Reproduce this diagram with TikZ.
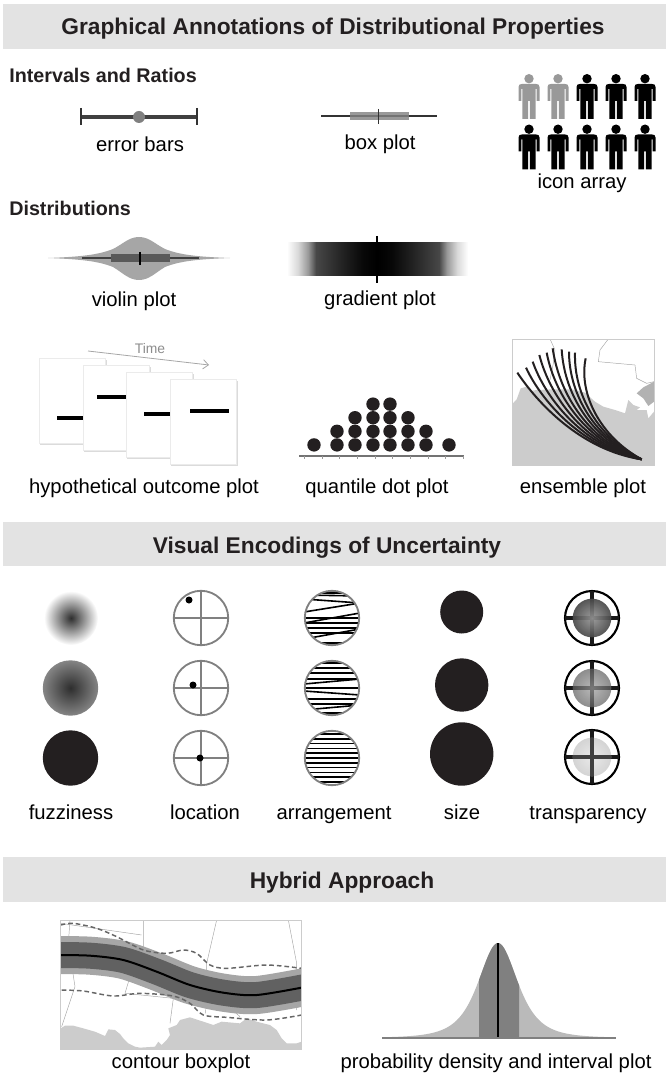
\documentclass[tikz,border=0pt]{standalone}
\usepackage{fontspec}
\setmainfont{Liberation Sans}
\usetikzlibrary{arrows.meta}

\definecolor{bandgray}{HTML}{E3E3E3}
\definecolor{inkdark}{HTML}{231F20}
\definecolor{landgray}{HTML}{CCCCCC}
\definecolor{midgray}{HTML}{808080}

\pgfdeclarehorizontalshading{gradstrip}{100bp}{
  color(0bp)=(white); color(25bp)=(white); color(28bp)=(black!15);
  color(30.8bp)=(black!40); color(33bp)=(black!72); color(40bp)=(black!86);
  color(46bp)=(black!97); color(50bp)=(black); color(54bp)=(black!97); color(60bp)=(black!86);
  color(67bp)=(black!72); color(69.2bp)=(black!40); color(72bp)=(black!15); color(75bp)=(white); color(100bp)=(white)}

\tikzset{
  band/.style={fill=bandgray, draw=none},
  heading/.style={font=\fontsize{17.05}{19}\selectfont\bfseries, text=inkdark, anchor=base},
  subheading/.style={font=\fontsize{14.8}{16}\selectfont\bfseries, text=inkdark, anchor=base west, inner sep=0pt},
  caption/.style={font=\fontsize{15.2}{17}\selectfont, text=black, anchor=base},
  card/.style={fill=white, draw=black!8, line width=0.5pt},
  cardshadow/.style={fill=black!14, draw=none},
  cardbar/.style={line width=2.3pt, black},
  ensemble/.style={line width=1.5pt, inkdark},
  stateline/.style={line width=0.35pt, black!35},
  dialring/.style={line width=1.4pt, midgray},
  hatch/.style={line width=1.2pt, black},
  dashedroute/.style={line width=1.1pt, black!60, dash pattern=on 3.5pt off 2.2pt}
}

\newcommand{\personicon}[3]{% x, top y, colour
  \fill[#3] (#1,#2+4.7) circle (4.7);
  \fill[#3] (#1-10.5,#2+27) -- (#1-10.5,#2+13) .. controls (#1-10.5,#2+10.5) and (#1-9,#2+10) .. (#1-7,#2+10)
    -- (#1+7,#2+10) .. controls (#1+9,#2+10) and (#1+10.5,#2+10.5) .. (#1+10.5,#2+13) -- (#1+10.5,#2+27)
    -- (#1+7.6,#2+27) -- (#1+7.6,#2+15) -- (#1+6.6,#2+15) -- (#1+6.6,#2+45) -- (#1+0.9,#2+45) -- (#1+0.9,#2+27)
    -- (#1-0.9,#2+27) -- (#1-0.9,#2+45) -- (#1-6.6,#2+45) -- (#1-6.6,#2+15) -- (#1-7.6,#2+15) -- (#1-7.6,#2+27) -- cycle;
}

\begin{document}
\begin{tikzpicture}[x=0.75pt, y=-0.75pt]
    \useasboundingbox (0,0) rectangle (667,1080);

    % Title bands
    \fill[band] (3,4) rectangle (666,49);
    \fill[band] (3,522) rectangle (666,566);
    \fill[band] (3,857) rectangle (666,902);
    \node[heading] (titleAnnot) at (333,35) {Graphical Annotations of Distributional Properties};
    \node[heading] (titleEnc) at (327,553) {Visual Encodings of Uncertainty};
    \node[heading] (titleHybrid) at (342,888) {Hybrid Approach};
    \node[subheading] (subIntervals) at (9,83) {Intervals and Ratios};
    \node[subheading] (subDist) at (9,216) {Distributions};

    % Error bars
    \draw[line width=2.4pt, black!75] (81,117) -- (197,117);
    \draw[line width=1pt, black!80] (81,108) -- (81,125);
    \draw[line width=1pt, black!80] (197,108) -- (197,125);
    \fill[black!50] (139,117) circle (6);
    \node[caption] (lblError) at (140,152) {error bars};

    % Box plot
    \draw[line width=1pt, black!80] (321,116) -- (437,116);
    \fill[black!40] (350,112) rectangle (409,120);
    \draw[line width=1pt, black!55] (350,116) -- (409,116);
    \draw[line width=1pt, black!80] (378.5,109) -- (378.5,124);
    \node[caption] (lblBox) at (380,150) {box plot};

    % Icon array
    \node[caption] (lblIcon) at (582,188.5) {icon array};
    \foreach \px/\tone in {529/black!40, 558/black!40, 587/black, 616/black, 645/black} {
        \personicon{\px}{74}{\tone}
    }
    \foreach \px in {529, 558, 587, 616, 645} {
        \personicon{\px}{124.5}{black}
    }

    % Violin plot
    \fill[black!35] (48,258) .. controls (80,256.8) and (98,255) .. (113,249)
        .. controls (123,244) and (129,237) .. (139,237) .. controls (149,237) and (155,244) .. (165,249)
        .. controls (180,255) and (198,256.8) .. (230,258) .. controls (198,259.2) and (180,261) .. (165,267)
        .. controls (155,273) and (149,280) .. (139,280) .. controls (129,280) and (123,273) .. (113,267)
        .. controls (98,261) and (80,259.2) .. (48,258) -- cycle;
    \draw[line width=1pt, black!75] (82,258) -- (199,258);
    \fill[black!65] (111,254.5) rectangle (170,262);
    \draw[line width=1pt, black] (140,252) -- (140,265);
    \node[caption] (lblViolin) at (134,306.5) {violin plot};

    % Gradient plot
    \shade[shading=gradstrip] (287,243) rectangle (468,276);
    \draw[line width=1pt, black] (377,236) -- (377,283);
    \node[caption] (lblGradient) at (380,305.5) {gradient plot};

    % Hypothetical outcome plot
    \coordinate (timeStart) at (88,351);
    \coordinate (timeEnd) at (209,365);
    \draw[line width=0.6pt, black!35, -{Straight Barb[length=4pt, width=7pt]}] (timeStart) -- (timeEnd);
    \node[font=\fontsize{10.4}{11}\selectfont, text=black!45] (lblTime) at (150,349) {Time};
    \foreach \cx/\cy/\barA/\barB/\barY in {39/358/57/83/418, 83/365/97/127/397, 126/372/144/171/414, 170/379/190/229/411} {
        \fill[cardshadow] (\cx+1,\cy+1.5) rectangle (\cx+67.5,\cy+86.5);
        \draw[card] (\cx,\cy) rectangle (\cx+66,\cy+85);
        \draw[cardbar] (\barA,\barY) -- (\barB,\barY);
    }
    \node[caption] (lblHop) at (144,493.5) {hypothetical outcome plot};

    % Quantile dot plot
    \foreach \qx/\rows in {314/1, 337/2, 355/3, 373/4, 390/4, 408/3, 426/2, 449/1}
        \foreach \qr in {1,...,\rows}
            \fill[inkdark] (\qx,458.5-13.6*\qr) circle (6.7);
    \draw[line width=1pt, black!55] (299,456) -- (464,456);
    \foreach \qt in {0,...,9}
        \draw[line width=0.3pt, black!40] (304+\qt*17.7,456) -- (304+\qt*17.7,458.5);
    \node[caption] (lblQuantile) at (377,493.5) {quantile dot plot};

    % Ensemble plot
    \begin{scope}[shift={(500,330)}, x=0.25pt, y=-0.25pt]
        \begin{scope}
            \clip (37,27) rectangle (462,405);
            \fill[black!30] (410,190) -- (430,172) -- (462,155) -- (462,215) -- (445,228) -- (430,205) -- cycle;
            \fill[landgray] (37,222) -- (50,208) -- (62,175) -- (80,170) -- (90,183) -- (110,180) -- (160,178) -- (215,178) -- (255,188)
                -- (285,215) -- (310,230) -- (345,240) -- (375,250) -- (385,210) -- (400,225) -- (420,232) -- (410,240) -- (440,240)
                -- (445,265) -- (462,245) -- (462,405) -- (37,405) -- cycle;
            \draw[stateline] (150,27) -- (165,60) -- (160,100) -- (150,150);
            \draw[stateline] (325,27) -- (300,60) -- (295,95) -- (405,105) -- (410,145) -- (440,160) -- (462,155);
        \end{scope}
        \draw[line width=0.4pt, black!20] (37,27) rectangle (462,405);
        \coordinate (stormEnd) at (425,388);
        \foreach \sx/\sy/\ax/\ay/\bx/\by in {52/128/110/215/240/360, 78/113/124/212/247/356, 98/95/138/209/253/351,
                118/75/152/207/260/347, 140/68/166/204/267/342, 158/55/179/201/273/338, 185/58/193/198/280/333,
                207/65/207/196/287/329, 225/68/221/193/293/324, 257/85/235/190/300/320}
            \draw[ensemble] (\sx,\sy) .. controls (\ax,\ay) and (\bx,\by) .. (stormEnd);
    \end{scope}
    \node[caption] (lblEnsemble) at (583,493.5) {ensemble plot};

    % Fuzziness
    \shade[inner color=black!82, middle color=black!45, outer color=white] (71,618) circle (27);
    \shade[inner color=black!82, outer color=black!48] (70.5,688) circle (27.7);
    \fill[inkdark] (70.5,758) circle (27.7);
    \node[caption] (lblFuzzy) at (71,819.5) {fuzziness};

    % Location
    \foreach \ly/\dx/\dy in {618/189/600, 688/193/685, 758/200/758} {
        \draw[dialring] (201,\ly) circle (27.2);
        \draw[dialring] (201-27,\ly) -- (201+27,\ly);
        \draw[dialring] (201,\ly-27) -- (201,\ly+27);
        \fill[black] (\dx,\dy) circle (3.5);
    }
    \node[caption] (lblLocation) at (205,819.5) {location};

    % Arrangement
    \foreach \ay/\seglist in {
        618/{-25/-25, -23/-22, -19/-15, -6/-15, 5/-5, 0/0, 5/5, 10/10, 15/15, 21/11, 25/25},
        688/{-25/-25, -20/-20, -15/-15, -9/-9, -4/-9, 0/0, 3/7, 11/11, 16/16, 22/17, 25/25},
        758/{-24/-24, -19.2/-19.2, -14.4/-14.4, -9.6/-9.6, -4.8/-4.8, 0/0, 4.8/4.8, 9.6/9.6, 14.4/14.4, 19.2/19.2, 24/24}} {
        \begin{scope}
            \clip (332,\ay) circle (27.2);
            \foreach \yl/\yr in \seglist
                \draw[hatch] (304,\ay+\yl) -- (360,\ay+\yr);
        \end{scope}
        \draw[dialring] (332,\ay) circle (27.2);
    }
    \node[caption] (lblArrange) at (334,819.5) {arrangement};

    % Size
    \fill[inkdark] (461.7,612) circle (21.5);
    \fill[inkdark] (461.7,685) circle (26.7);
    \fill[inkdark] (461.7,754) circle (31.7);
    \node[caption] (lblSize) at (462,819.5) {size};

    % Transparency
    \foreach \ty/\inner/\outer/\veil in {618/black!42/black!72/0.92, 688/black!38/black!62/0.72, 757/black!12/black!24/0.7} {
        \draw[line width=1.6pt, black] (592,\ty) circle (27);
        \draw[line width=2.4pt, black!90] (565,\ty) -- (619,\ty);
        \draw[line width=2.4pt, black!90] (592,\ty-27) -- (592,\ty+27);
        \shade[inner color=\inner, outer color=\outer, opacity=\veil] (592,\ty) circle (19.3);
    }
    \draw[line width=2.4pt, black!75] (573,757) -- (611,757);
    \draw[line width=2.4pt, black!75] (592,738) -- (592,776);
    \node[caption] (lblTransp) at (588,819.5) {transparency};

    % Contour boxplot
    \begin{scope}[shift={(40,910)}, x=0.25pt, y=-0.25pt]
        \begin{scope}
            \clip (62,30) rectangle (785,417);
            \fill[landgray] (62,355) -- (75,347) -- (100,347) -- (130,355) -- (165,365) -- (195,378) -- (205,358) -- (225,360)
                -- (240,372) -- (250,385) -- (265,400) -- (285,410) -- (300,413) -- (345,410) -- (355,395) -- (365,405)
                -- (380,390) -- (390,375) -- (385,355) -- (410,345) -- (420,330) -- (450,322) -- (490,335) -- (520,345)
                -- (545,335) -- (600,340) -- (620,325) -- (650,335) -- (690,345) -- (710,360) -- (725,385) -- (740,400)
                -- (770,400) -- (785,395) -- (785,417) -- (62,417) -- cycle;
            \draw[stateline] (90,30) -- (85,100) -- (105,230) -- (85,290) -- (65,350);
            \draw[stateline] (62,40) -- (305,75);
            \draw[stateline] (310,30) -- (310,130) -- (270,200) -- (255,250) -- (400,265) -- (390,340);
            \draw[stateline] (530,30) -- (500,160) -- (497,310);
            \draw[stateline] (745,30) -- (770,160) -- (770,300);
            \draw[stateline] (560,285) -- (600,320);
            \draw[line width=28.5pt, black!35] plot[smooth] coordinates {(40,135) (150,137) (250,150) (350,185) (450,225) (550,248) (650,255) (800,230)};
            \draw[line width=19.5pt, black!62] plot[smooth] coordinates {(40,135) (150,137) (250,150) (350,185) (450,225) (550,248) (650,255) (800,230)};
            \draw[line width=1.5pt, black] plot[smooth] coordinates {(40,135) (150,137) (250,150) (350,185) (450,225) (550,248) (650,255) (800,230)};
            \draw[dashedroute] plot[smooth] coordinates {(62,45) (100,40) (170,55) (230,80) (310,120) (380,130) (430,120) (470,130) (510,165) (560,175) (680,165) (785,175)};
            \draw[dashedroute] plot[smooth] coordinates {(65,240) (130,243) (220,258) (300,250) (400,258) (450,280) (490,315) (560,322) (680,330) (785,315)};
        \end{scope}
        \draw[line width=0.4pt, black!20] (62,30) rectangle (785,417);
    \end{scope}
    \node[caption] (lblContour) at (181,1068.5) {contour boxplot};

    % Density and interval
    \fill[black!27] plot[domain=382:616, samples=120] (\x,{1038-95/(1+((\x-498)/36)^2)^2}) -- cycle;
    \fill[black!50] plot[domain=479:519, samples=40] (\x,{1038-95/(1+((\x-498)/36)^2)^2}) -- (519,1038) -- (479,1038) -- cycle;
    \draw[line width=1.4pt, black] (498,943) -- (498,1038);
    \draw[line width=0.8pt, black!50] (382,1038) -- (616,1038);
    \node[caption] (lblDensity) at (496,1068.5) {probability density and interval plot};
\end{tikzpicture}
\end{document}
